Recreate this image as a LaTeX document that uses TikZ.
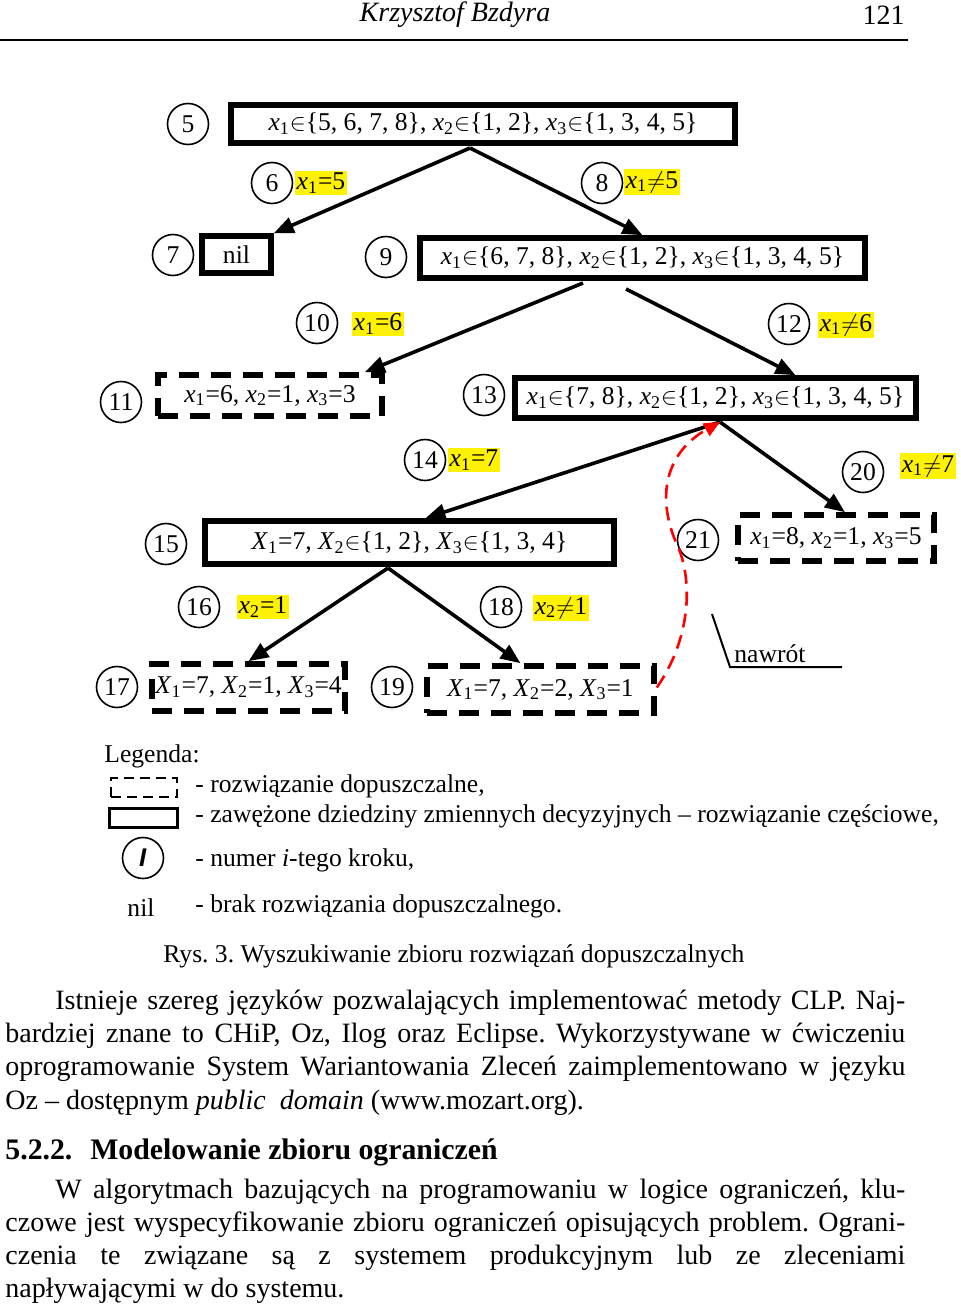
\documentclass[tikz,border=0pt]{standalone}
\usepackage{fontspec}
\setmainfont{Liberation Serif}
\setsansfont{Liberation Sans}
\usetikzlibrary{arrows.meta}
\frenchspacing
\newcommand{\xx}[1]{\textit{x}\textsubscript{#1}}
\newcommand{\XX}[1]{\textit{X}\textsubscript{#1}}
\newcommand{\wn}{\ensuremath{\in}}
\newcommand{\nr}{\ensuremath{\neq}}
\newcommand{\tekst}{\fontsize{14}{16.5}\selectfont}
\begin{document}
\begin{tikzpicture}[x=0.5pt,y=-0.5pt,font=\fontsize{12.8}{15}\selectfont,
		krok/.style={circle,draw,line width=0.8pt,minimum size=20.5pt,inner sep=0pt},
		stan/.style={draw,line width=2.8pt,inner sep=0pt},
		rozw/.style={draw,line width=2.8pt,dash pattern=on 10pt off 6pt,inner sep=0pt},
		war/.style={fill=yellow,inner sep=1pt},
		strz/.style={line width=1.8pt,-{Triangle[length=10pt,width=8pt]}},
		czerw/.style={red,line width=1.3pt,dash pattern=on 7pt off 4pt,-{Triangle[length=8pt,width=7pt]}},
		opis/.style={anchor=west,inner sep=0pt}]
	\useasboundingbox (0,0) rectangle (960,1307);
	
	% naglowek strony
	\node[inner sep=0pt] (H1) at (455,15) {\tekst\textit{Krzysztof Bzdyra}};
	\node[anchor=east,inner sep=0pt] (H2) at (905,15) {\tekst 121};
	\draw[line width=1pt] (0,40) -- (908,40);
	
	% drzewo poszukiwan
	\node[krok] (K5) at (188,124) {5};
	\node[stan,minimum width=252pt,minimum height=19pt] (S5) at (483,124) {\xx1\wn\{5, 6, 7, 8\}, \xx2\wn\{1, 2\}, \xx3\wn\{1, 3, 4, 5\}};
	
	\node[krok] (K6) at (272,183) {6};
	\node[war] (W6) at (321,183) {\xx1=5};
	\node[krok] (K8) at (602,183) {8};
	\node[war] (W8) at (652,182) {\xx1\nr5};
	
	\node[krok] (K7) at (173,255) {7};
	\node[stan,minimum width=34.5pt,minimum height=18.5pt] (S7) at (236.5,254.5) {nil};
	\node[krok] (K9) at (386,257) {9};
	\node[stan,minimum width=222.5pt,minimum height=20pt] (S9) at (642.5,258) {\xx1\wn\{6, 7, 8\}, \xx2\wn\{1, 2\}, \xx3\wn\{1, 3, 4, 5\}};
	
	\node[krok] (K10) at (317,323) {10};
	\node[war] (W10) at (378,324) {\xx1=6};
	\node[krok] (K12) at (789,324) {12};
	\node[war] (W12) at (846,325) {\xx1\nr6};
	
	\node[krok] (K11) at (121,402) {11};
	\node[rozw,minimum width=112pt,minimum height=20.5pt] (S11) at (270,395.5) {\xx1=6, \xx2=1, \xx3=3};
	\node[krok] (K13) at (484,395) {13};
	\node[stan,minimum width=200.5pt,minimum height=20pt] (S13) at (715.5,398) {\xx1\wn\{7, 8\}, \xx2\wn\{1, 2\}, \xx3\wn\{1, 3, 4, 5\}};
	
	\node[krok] (K14) at (425,460) {14};
	\node[war] (W14) at (474,460) {\xx1=7};
	\node[krok] (K20) at (863,472) {20};
	\node[war] (W20) at (928,466) {\xx1\nr7};
	
	\node[krok] (K15) at (166,544) {15};
	\node[stan,minimum width=204.5pt,minimum height=21.5pt] (S15) at (409.5,542.5) {\XX1=7, \XX2\wn\{1, 2\}, \XX3\wn\{1, 3, 4\}};
	\node[krok] (K21) at (698,540) {21};
	\node[rozw,minimum width=98pt,minimum height=23pt] (S21) at (836,538) {\xx1=8, \xx2=1, \xx3=5};
	
	\node[krok] (K16) at (199,607) {16};
	\node[war] (W16) at (263,607) {\xx2=1};
	\node[krok] (K18) at (501,607) {18};
	\node[war] (W18) at (561,608) {\xx2\nr1};
	
	\node[krok] (K17) at (117,687) {17};
	\node[rozw,minimum width=96.5pt,minimum height=23.5pt] (S17) at (248.5,687.5) {\XX1=7, \XX2=1, \XX3=4};
	\node[krok] (K19) at (392,687) {19};
	\node[rozw,minimum width=113.5pt,minimum height=23.5pt] (S19) at (540.5,689.5) {\XX1=7, \XX2=2, \XX3=1};
	
	\coordinate (A5) at (470,148);
	\coordinate (A9l) at (583,283);
	\coordinate (A9p) at (626,289);
	\coordinate (A13) at (720,422);
	\coordinate (A15) at (388,568);
	
	\draw[strz] (A5) -- (S7.north east);
	\draw[strz] (A5) -- (S9.north);
	\draw[strz] (A9l) -- ([xshift=-10pt]S11.north east);
	\draw[strz] (A9p) -- ([xshift=40pt]S13.north);
	\draw[strz] (A13) -- ([xshift=8pt]S15.north);
	\draw[strz] (A13) -- ([xshift=4.5pt]S21.north);
	\draw[strz] (A15) -- (S17.north);
	\draw[strz] (A15) -- ([xshift=-10pt]S19.north);
	
	% nawrot
	\coordinate (C1) at (675,540);
	\draw[czerw] ([yshift=1pt]S19.east) .. controls (690,640) and (695,580) .. (C1) .. controls (655,490) and (670,450) .. (A13);
	\coordinate (N1) at (712,614);
	\coordinate (N2) at (730,667);
	\coordinate (N3) at (842,667);
	\draw[line width=1pt] (N1) -- (N2) -- (N3);
	\node[opis] (N) at (734,654) {nawrót};
	
	% legenda
	\node[opis] (L0) at (104,756) {Legenda:};
	\node[draw,line width=1pt,dash pattern=on 5pt off 3pt,minimum width=33pt,minimum height=9.5pt,inner sep=0pt] (L1) at (144,787) {};
	\node[opis] (T1) at (195,786) {- rozwiązanie dopuszczalne,};
	\node[draw,line width=1.5pt,minimum width=34pt,minimum height=9.5pt,inner sep=0pt] (L2) at (143,817.5) {};
	\node[opis] (T2) at (195,816) {- zawężone dziedziny zmiennych decyzyjnych – rozwiązanie częściowe,};
	\node[krok] (L3) at (143,858) {\textsf{\bfseries\itshape I}};
	\node[opis] (T3) at (195,860) {- numer \textit{i}-tego kroku,};
	\node[inner sep=0pt] (L4) at (141,908) {nil};
	\node[opis] (T4) at (195,906) {- brak rozwiązania dopuszczalnego.};
	\node[opis] (R3) at (163,956) {Rys. 3. Wyszukiwanie zbioru rozwiązań dopuszczalnych};
	
	% tekst
	\begin{scope}[font=\tekst]
		\node[opis] (P1) at (55,1003) {\makebox[425pt][s]{Istnieje szereg języków pozwalających implementować metody CLP. Naj-}};
		\node[opis] (P2) at (5,1036) {\makebox[450pt][s]{bardziej znane to CHiP, Oz, Ilog oraz Eclipse. Wykorzystywane w ćwiczeniu}};
		\node[opis] (P3) at (5,1069) {\makebox[450pt][s]{oprogramowanie System Wariantowania Zleceń zaimplementowano w języku}};
		\node[opis] (P4) at (5,1103) {Oz – dostępnym \textit{public~ domain} (www.mozart.org).};
		\node[opis] (P5) at (5,1152) {\fontsize{14.9}{17}\selectfont\bfseries 5.2.2.\hspace{0.6em}Modelowanie zbioru ograniczeń};
		\node[opis] (P6) at (55,1192) {\makebox[425pt][s]{W algorytmach bazujących na programowaniu w logice ograniczeń, klu-}};
		\node[opis] (P7) at (5,1225) {\makebox[450pt][s]{czowe jest wyspecyfikowanie zbioru ograniczeń opisujących problem. Ograni-}};
		\node[opis] (P8) at (5,1258) {\makebox[450pt][s]{czenia te związane są z systemem produkcyjnym lub ze zleceniami}};
		\node[opis] (P9) at (5,1291) {napływającymi w do systemu.};
	\end{scope}
\end{tikzpicture}
\end{document}
